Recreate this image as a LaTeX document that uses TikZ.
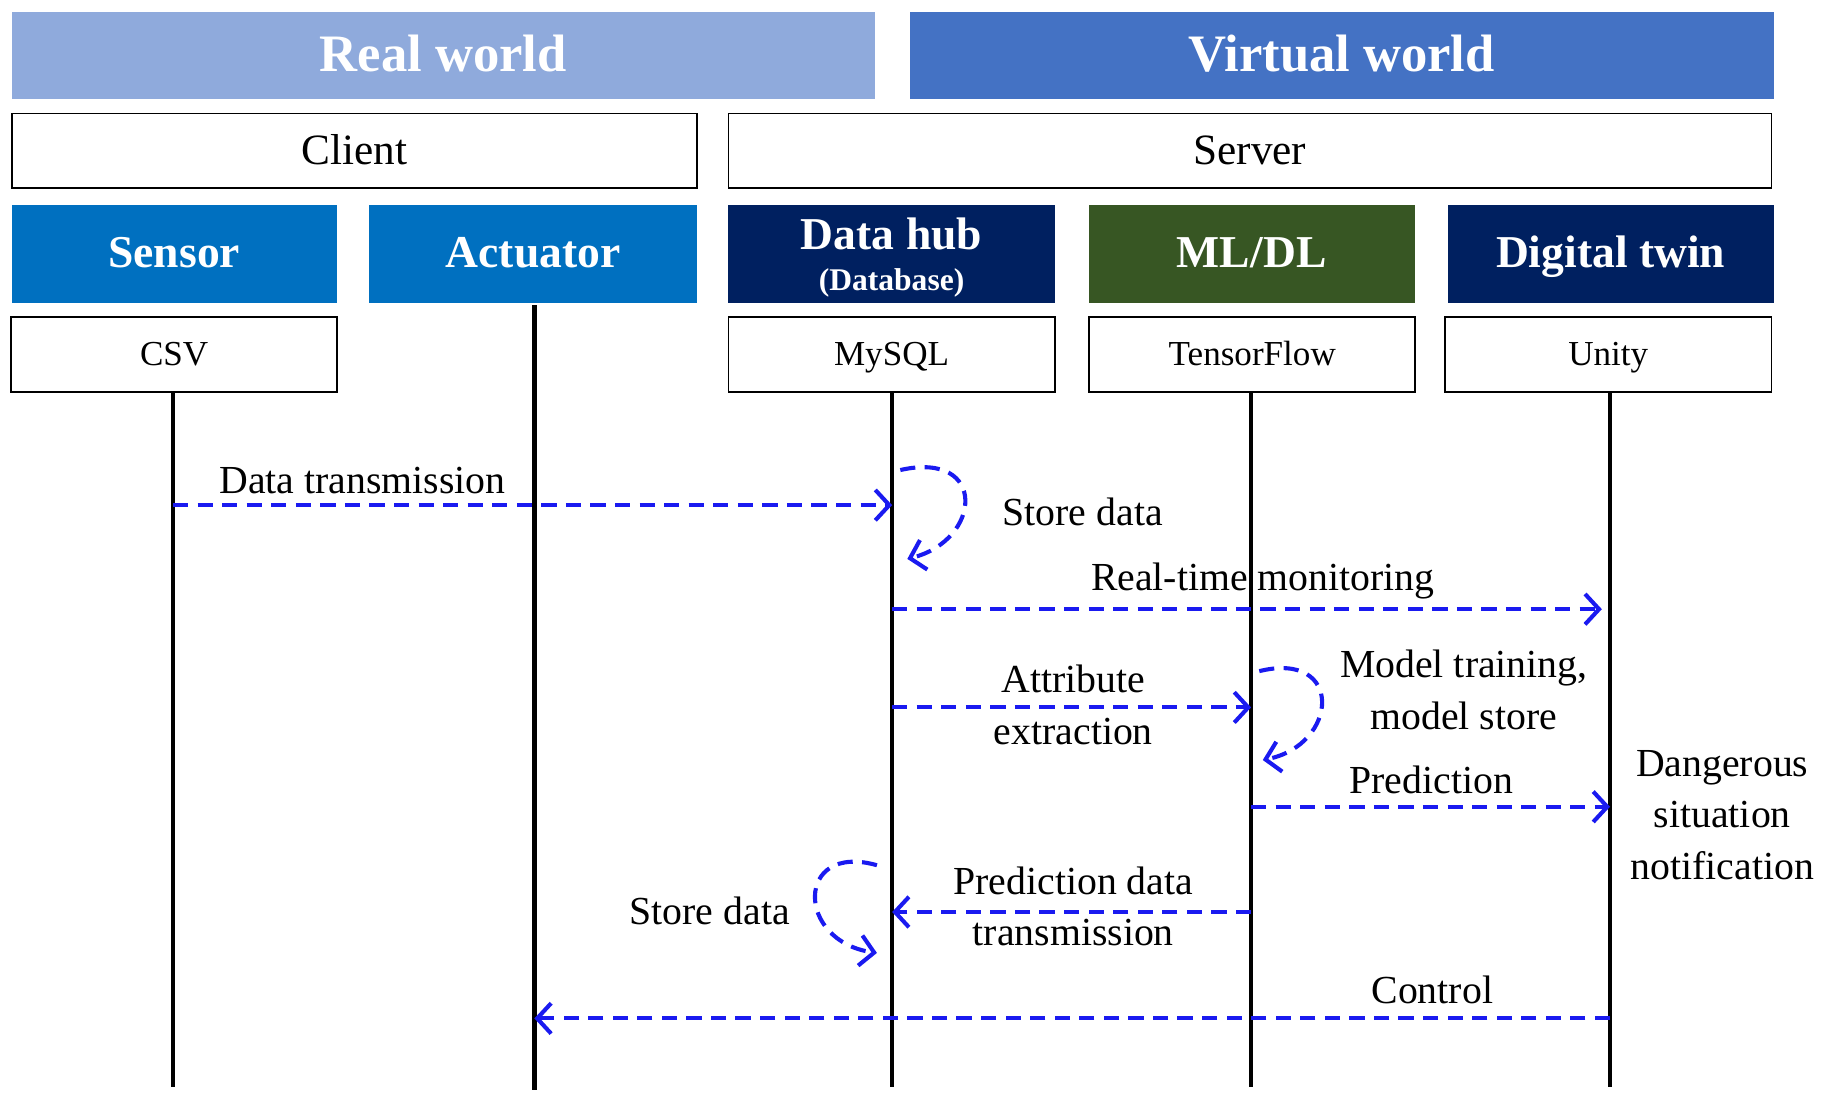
\documentclass[tikz,border=0pt]{standalone}
\usepackage{fontspec}
\setmainfont{Liberation Serif}
\usetikzlibrary{arrows.meta}
\definecolor{rw}{HTML}{8FAADC}
\definecolor{vw}{HTML}{4472C4}
\definecolor{sb}{HTML}{0070C0}
\definecolor{nv}{HTML}{002060}
\definecolor{gr}{HTML}{375623}
\definecolor{ab}{HTML}{1A1AF0}
\begin{document}
\begin{tikzpicture}[x=1pt,y=-1pt,
 banner/.style={minimum height=75pt,inner sep=0,text=white,text height=36pt,text depth=9pt,font=\fontsize{45}{48}\selectfont\bfseries},
 role/.style={draw=black,line width=1.5pt,fill=white,minimum height=64pt,inner sep=0,text height=30pt,text depth=7pt,font=\fontsize{37}{40}\selectfont},
 comp/.style={minimum height=84pt,inner sep=0,text=white,text height=31pt,text depth=7pt,font=\fontsize{39}{40}\selectfont\bfseries},
 tech/.style={draw=black,line width=1.5pt,fill=white,minimum height=64pt,minimum width=279pt,inner sep=0,text height=25pt,text depth=6pt,font=\fontsize{30}{32}\selectfont},
 life/.style={line width=4pt,black},
 msg/.style={ab,line width=3.5pt,dash pattern=on 13pt off 8pt,-{Straight Barb[length=12pt,width=26pt,line width=3.5pt]}},
 lbl/.style={font=\fontsize{34}{44}\selectfont,align=center,inner sep=1pt}]
\useasboundingbox (0,0) rectangle (1560,937);
\node[banner,fill=rw,minimum width=738pt] (real) at (379,47.5) {Real world};
\node[banner,fill=vw,minimum width=739pt] (virt) at (1147.5,47.5) {Virtual world};
\node[role,minimum width=586pt] (client) at (303,129) {Client};
\node[role,minimum width=892pt] (server) at (1069,129) {Server};
\node[comp,fill=sb,minimum width=278pt] (sensor) at (149,217) {Sensor};
\node[comp,fill=sb,minimum width=280pt] (act) at (456,217) {Actuator};
\node[minimum height=84pt,minimum width=279pt,fill=nv,inner sep=0] (hub) at (762.5,217) {};
\node[text=white,font=\fontsize{39}{40}\selectfont\bfseries] at (762.5,200) {Data hub};
\node[text=white,font=\fontsize{27}{28}\selectfont\bfseries] at (762.5,242) {(Database)};
\node[comp,fill=gr,minimum width=279pt] (ml) at (1070.5,217) {ML/DL};
\node[comp,fill=nv,minimum width=279pt] (dt) at (1377.5,217) {Digital twin};
\node[tech] (csv) at (149,303) {CSV};
\node[tech] (mysql) at (762.5,303) {MySQL};
\node[tech] (tf) at (1071,303) {TensorFlow};
\node[tech] (unity) at (1375.5,303) {Unity};
\coordinate (s0) at (148,930); \coordinate (a0) at (457,932);
\coordinate (m0) at (763,930); \coordinate (t0) at (1070,930); \coordinate (u0) at (1377,930);
\draw[life] (148,335) -- (s0);
\draw[life] (457,261) -- (a0);
\draw[life] (763,335) -- (m0);
\draw[life] (1070,335) -- (t0);
\draw[life] (1377,335) -- (u0);
\coordinate (m1a) at (148,432); \coordinate (m1b) at (763,432);
\draw[msg] (m1a) -- (m1b);
\node[lbl] (l1) at (310,411) {Data transmission};
\coordinate (lp1a) at (770,402); \coordinate (lp1b) at (776,478);
\draw[msg] (lp1a) .. controls (845,385) and (840,462) .. (lp1b);
\node[lbl] (l2) at (926,438) {Store data};
\coordinate (m2a) at (763,521); \coordinate (m2b) at (1370,521);
\draw[msg] (m2a) -- (m2b);
\node[lbl] (l3) at (1080,497) {Real-time monitoring};
\coordinate (m3a) at (763,605); \coordinate (m3b) at (1070,605);
\draw[msg] (m3a) -- (m3b);
\node[lbl] (l4) at (918,603) {Attribute\\extraction};
\coordinate (lp2a) at (1077,574); \coordinate (lp2b) at (1080,650);
\draw[msg] (lp2a) .. controls (1150,556) and (1145,637) .. (lp2b);
\node[lbl] (l5) at (1252,590) {Model training,\\model store};
\coordinate (m4a) at (1070,690); \coordinate (m4b) at (1377,690);
\draw[msg] (m4a) -- (m4b);
\node[lbl] (l6) at (1224,667) {Prediction};
\node[lbl] (l7) at (1473,697) {Dangerous\\situation\\notification};
\coordinate (m5a) at (1070,780); \coordinate (m5b) at (763,780);
\draw[msg] (m5a) -- (m5b);
\node[lbl] (l8) at (918,775) {Prediction data\\transmission};
\coordinate (lp3a) at (750,740); \coordinate (lp3b) at (750,815);
\draw[msg] (lp3a) .. controls (680,720) and (680,805) .. (lp3b);
\node[lbl] (l9) at (607,779) {Store data};
\coordinate (m6a) at (1377,871); \coordinate (m6b) at (457,871);
\draw[msg] (m6a) -- (m6b);
\node[lbl] (l10) at (1225,847) {Control};
\end{tikzpicture}
\end{document}
